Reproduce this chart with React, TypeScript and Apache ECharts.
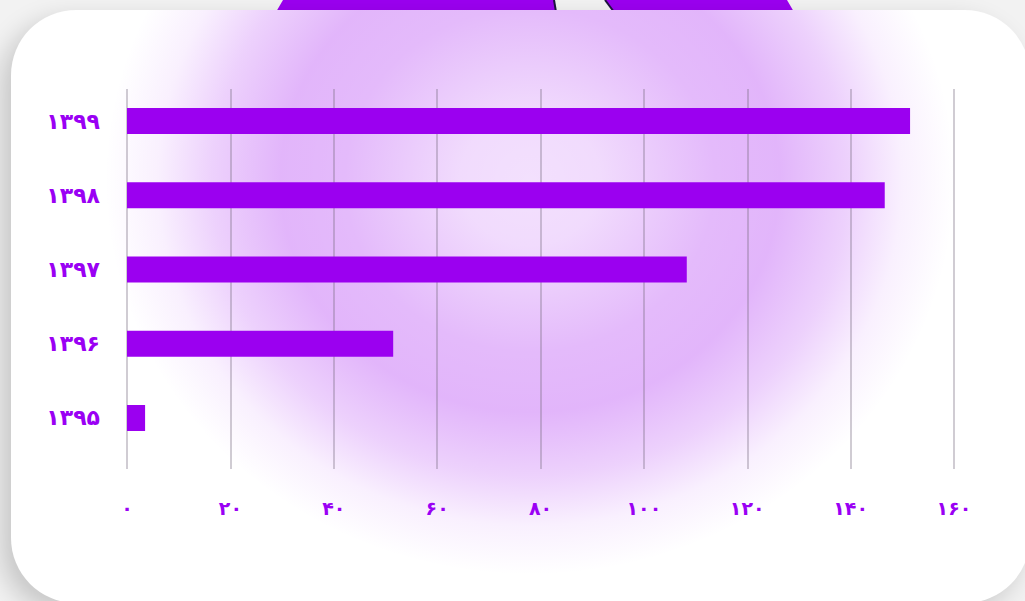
import React, { useEffect, useRef } from "react";
import * as echarts from "echarts";

// ---- data ----
const categories: string[] = ["۱۳۹۵", "۱۳۹۶", "۱۳۹۷", "۱۳۹۸", "۱۳۹۹"];
const values: number[] = [3.5, 51.5, 108.3, 146.6, 151.5];
const xTicks: number[] = [0, 20, 40, 60, 80, 100, 120, 140, 160];
const faDigits: string[] = ["۰", "۱", "۲", "۳", "۴", "۵", "۶", "۷", "۸", "۹"];

const toFa = (n: number | string) =>
  String(n).replace(/\d/g, (d) => faDigits[Number(d)]);

const PURPLE = "#9b00f0";
const LABEL = "#9a00f4";
const FONT = "'DejaVu Sans', 'Noto Sans', sans-serif";

export default function App() {
  const ref = useRef<HTMLDivElement>(null);

  useEffect(() => {
    if (!ref.current) return;
    const chart = echarts.init(ref.current, undefined, { renderer: "svg" });
    chart.setOption({
      animation: false,
      backgroundColor: "transparent",
      grid: [
        { left: 127, top: 89, width: 827, height: 380 },
        { left: 127, top: 84, width: 827, height: 371 },
      ],
      xAxis: [
        {
          gridIndex: 0,
          type: "value",
          min: xTicks[0],
          max: xTicks[xTicks.length - 1],
          interval: xTicks[1] - xTicks[0],
          axisLine: { show: false },
          axisTick: { show: false },
          splitLine: {
            show: true,
            lineStyle: { color: "rgba(120,110,130,0.35)", width: 2 },
          },
          axisLabel: {
            margin: 29,
            color: LABEL,
            fontSize: 19,
            fontWeight: "bold",
            fontFamily: FONT,
            formatter: (v: number) => toFa(v),
          },
        },
        {
          gridIndex: 1,
          type: "value",
          min: xTicks[0],
          max: xTicks[xTicks.length - 1],
          show: false,
        },
      ],
      yAxis: [
        { gridIndex: 0, type: "category", data: categories, show: false },
        {
          gridIndex: 1,
          type: "category",
          data: categories,
          axisLine: { show: false },
          axisTick: { show: false },
          splitLine: { show: false },
          axisLabel: {
            margin: 27,
            color: LABEL,
            fontSize: 22,
            fontWeight: "bold",
            fontFamily: FONT,
          },
        },
      ],
      series: [
        {
          type: "bar",
          xAxisIndex: 1,
          yAxisIndex: 1,
          data: values,
          barWidth: 26,
          itemStyle: { color: PURPLE },
        },
      ],
    });
    return () => chart.dispose();
  }, []);

  const p = (a: number) => `rgba(155,0,240,${a})`;

  return (
    <div
      style={{
        position: "fixed",
        left: 0,
        top: 0,
        width: 1025,
        height: 601,
        overflow: "hidden",
        background: "#f2f2f2",
      }}
    >
      <svg
        width={1025}
        height={20}
        style={{ position: "absolute", left: 0, top: 0 }}
      >
        <polygon points="276,12 283,0 554,0 556,12" fill={PURPLE} />
        <line x1={554} y1={0} x2={556} y2={12} stroke="#1d1540" strokeWidth={2} />
        <polygon points="605,0 787,0 794,12 614,12" fill={PURPLE} />
        <line x1={605} y1={0} x2={614} y2={12} stroke="#1d1540" strokeWidth={2} />
      </svg>
      <div
        style={{
          position: "absolute",
          left: 11,
          top: 10,
          width: 1019,
          height: 593,
          borderRadius: 65,
          background: `radial-gradient(ellipse 425px 395px at 519px 170px, ${p(0.12)} 0px, ${p(0.14)} 70px, ${p(0.27)} 185px, ${p(0.29)} 250px, ${p(0.18)} 318px, ${p(0.06)} 372px, ${p(0)} 425px), #ffffff`,
          boxShadow: "-10px 10px 26px rgba(0,0,0,0.18)",
          overflow: "hidden",
        }}
      />
      <div
        ref={ref}
        style={{ position: "absolute", left: 0, top: 0, width: 1025, height: 601 }}
      />
    </div>
  );
}
